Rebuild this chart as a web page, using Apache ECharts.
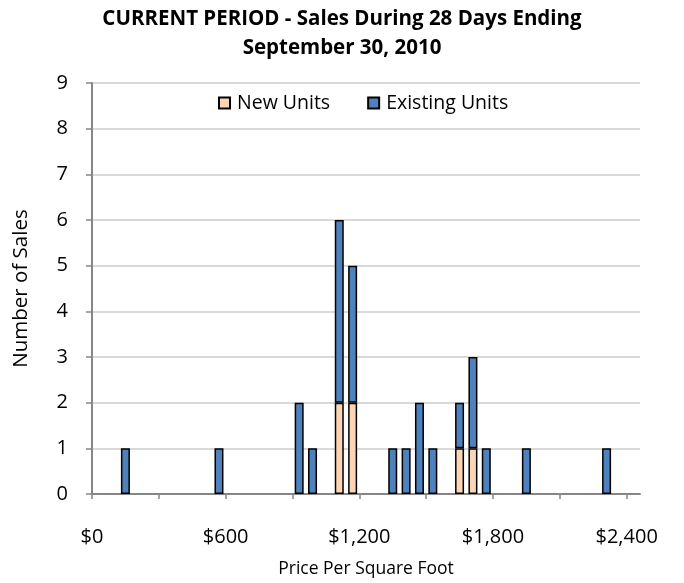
<!DOCTYPE html>
<html>
<head>
<meta charset="utf-8">
<script src="https://cdn.jsdelivr.net/npm/echarts@6/dist/echarts.min.js"></script>
<style>
  html, body { margin: 0; padding: 0; background: #fff; }
  #chart { width: 684px; height: 583px; }
</style>
</head>
<body>
<div id="chart"></div>
<script>
// price bins are $60 wide, values below are the bin centres
const binWidth = 60
const binCount = 41
const binCenters = [150, 570, 930, 990, 1110, 1170, 1350, 1410, 1470, 1530, 1650, 1710, 1770, 1950, 2310]
const newUnits = [0, 0, 0, 0, 2, 2, 0, 0, 0, 0, 1, 1, 0, 0, 0]
const existingUnits = [1, 1, 2, 1, 4, 3, 1, 1, 2, 1, 1, 2, 1, 1, 1]
const xTicks = [0, 300, 600, 900, 1200, 1500, 1800, 2100, 2400]
const xLabels = [0, 600, 1200, 1800, 2400]

const font = 'Open Sans'

const bins = []
for (let i = 0; i < binCount; i++) bins.push(String(i * binWidth))

function pairs (values) {
  return binCenters.map((x, i) => [Math.floor(x / binWidth), values[i] === 0 ? '-' : values[i]])
}

const myChart = echarts.init(document.getElementById('chart'), null, { renderer: 'canvas' })

const option = {
  animation: false,
  textStyle: { fontFamily: font },
  title: {
    text: 'CURRENT PERIOD - Sales During 28 Days Ending\nSeptember 30, 2010',
    left: 'center',
    top: 0,
    textStyle: { fontFamily: font, fontWeight: 'bold', fontSize: 20.5, lineHeight: 29, color: '#000' }
  },
  legend: {
    top: 88,
    left: 213,
    itemWidth: 11,
    itemHeight: 11,
    itemGap: 37,
    icon: 'rect',
    textStyle: { fontFamily: font, fontSize: 19.5, color: '#000', padding: [0, 0, 0, 2] },
    data: ['New Units', 'Existing Units']
  },
  grid: { left: 92, right: 44, top: 83, bottom: 86 },
  xAxis: [
    {
      type: 'category',
      data: bins,
      boundaryGap: true,
      show: false
    },
    {
      type: 'value',
      position: 'bottom',
      min: 0,
      max: binCount * binWidth,
      name: 'Price Per Square Foot',
      nameLocation: 'middle',
      nameGap: 66,
      nameTextStyle: { fontFamily: font, fontSize: 17.5, color: '#000' },
      axisLine: { lineStyle: { color: '#868686', width: 2 } },
      axisTick: { show: true, length: 5, customValues: xTicks, lineStyle: { color: '#868686', width: 1.5 } },
      axisLabel: {
        customValues: xLabels,
        margin: 33,
        fontFamily: font,
        fontSize: 20,
        color: '#000',
        formatter: v => '$' + v.toLocaleString('en-US')
      },
      splitLine: { show: false }
    }
  ],
  yAxis: {
    type: 'value',
    min: 0,
    max: 9,
    interval: 1,
    name: 'Number of Sales',
    nameLocation: 'middle',
    nameGap: 60,
    nameTextStyle: { fontFamily: font, fontSize: 20.5, color: '#000' },
    axisLine: { show: true, lineStyle: { color: '#868686', width: 2 } },
    axisTick: { show: true, length: 6, lineStyle: { color: '#868686', width: 1.5 } },
    axisLabel: { margin: 24, fontFamily: font, fontSize: 20, color: '#000' },
    splitLine: { lineStyle: { color: '#d9d9d9', width: 2 } }
  },
  series: [
    {
      name: 'New Units',
      type: 'bar',
      stack: 'sales',
      xAxisIndex: 0,
      barWidth: 9,
      itemStyle: { color: '#fcd5b5', borderColor: '#000', borderWidth: 1.5 },
      data: pairs(newUnits)
    },
    {
      name: 'Existing Units',
      type: 'bar',
      stack: 'sales',
      xAxisIndex: 0,
      barWidth: 9,
      itemStyle: { color: '#4f81bd', borderColor: '#000', borderWidth: 1.5 },
      data: pairs(existingUnits)
    }
  ]
}

myChart.setOption(option)
window.addEventListener('resize', myChart.resize)
</script>
</body>
</html>
